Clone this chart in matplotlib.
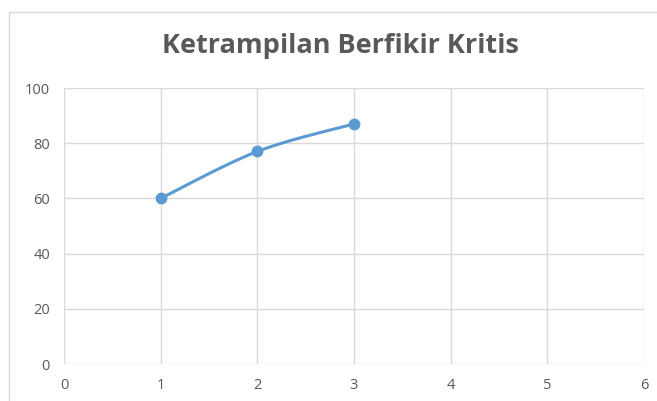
import matplotlib.pyplot as plt
import numpy as np
from matplotlib.patches import Rectangle

x_vals = [1, 2, 3]
y_vals = [60, 77, 87]
x_ticks = [0, 1, 2, 3, 4, 5, 6]
y_ticks = [0, 20, 40, 60, 80, 100]
title = 'Ketrampilan Berfikir Kritis'

LINE = '#5b9bd5'
GRID = '#d9d9d9'
TEXT = '#595959'


def smooth_curve(xs, ys, n=40):
    """Excel-style smoothed line: Catmull-Rom segments through the points."""
    pts = np.column_stack([xs, ys]).astype(float)
    out = []
    for i in range(len(pts) - 1):
        p0 = pts[i - 1] if i > 0 else pts[i]
        p1, p2 = pts[i], pts[i + 1]
        p3 = pts[i + 2] if i + 2 < len(pts) else pts[i + 1]
        c1 = p1 + (p2 - p0) / 6
        c2 = p2 - (p3 - p1) / 6
        t = np.linspace(0, 1, n)[:, None]
        seg = ((1 - t) ** 3) * p1 + 3 * ((1 - t) ** 2) * t * c1 + 3 * (1 - t) * t ** 2 * c2 + t ** 3 * p2
        out.append(seg)
    curve = np.vstack(out)
    return curve[:, 0], curve[:, 1]


W, H = 657, 401
fig = plt.figure(figsize=(W / 100, H / 100), dpi=100)
fig.patches.append(Rectangle((9 / W, -0.1), 1.1, (H - 12) / H + 0.1, transform=fig.transFigure,
                             fill=False, edgecolor=GRID, linewidth=1))

ax = fig.add_axes([64 / W, (H - 364) / H, (644 - 64) / W, (364 - 88) / H])
sx, sy = smooth_curve(x_vals, y_vals)
ax.plot(sx, sy, color=LINE, linewidth=2.2, solid_capstyle='round', zorder=3)
ax.plot(x_vals, y_vals, 'o', color=LINE, markersize=7.5, zorder=4)

ax.set_xlim(0, 6)
ax.set_ylim(0, 100)
ax.set_xticks(x_ticks)
ax.set_yticks(y_ticks)
ax.grid(True, color=GRID, linewidth=1)
ax.set_axisbelow(True)
for s in ax.spines.values():
    s.set_visible(False)
ax.tick_params(length=0, labelsize=10.5, labelcolor=TEXT, pad=10)
for lab in ax.get_xticklabels() + ax.get_yticklabels():
    lab.set_family('Open Sans')

fig.text(340 / W, 1 - 46 / H, title, ha='center', va='center', fontsize=19.5,
         fontweight='bold', color=TEXT, family='Open Sans')

fig.savefig('out.png', dpi=100)
